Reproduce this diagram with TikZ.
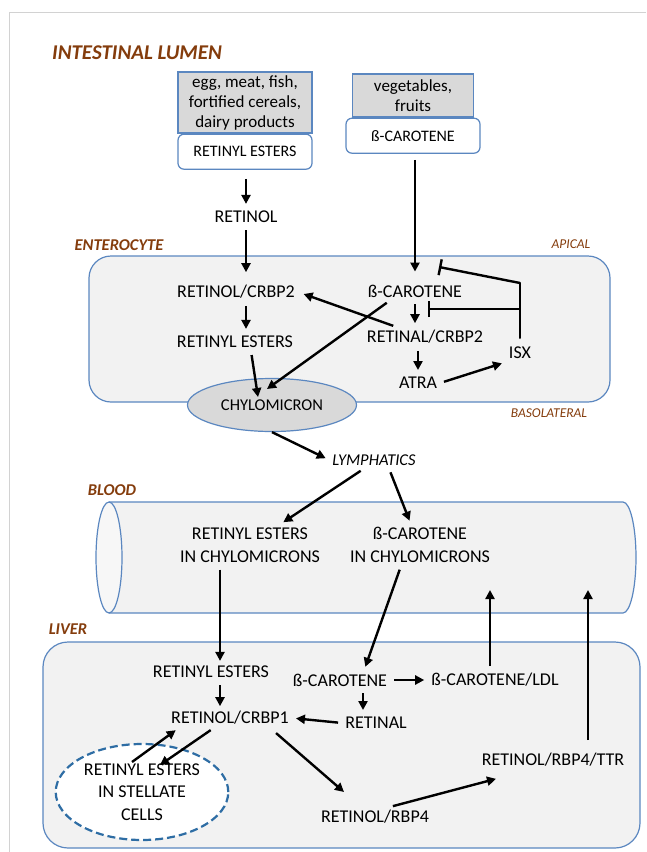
\documentclass[tikz,border=0pt]{standalone}
\usepackage{fontspec}
\setmainfont{Carlito}
\usepackage{xcolor}
\usepackage{tikz}
\usetikzlibrary{positioning,shapes.geometric,arrows.meta,calc}

\definecolor{regionbrown}{HTML}{843C0C}
\definecolor{cellblue}{HTML}{5B87C0}
\definecolor{cellgray}{HTML}{F2F2F2}
\definecolor{foodgray}{HTML}{D9D9D9}
\definecolor{stellateblue}{HTML}{2E6DA4}

\begin{document}
\begin{tikzpicture}[
  x=1pt, y=-1pt,
  every node/.style={font=\fontsize{18}{21}\selectfont, inner sep=3pt},
  lbl/.style={align=center, font=\fontsize{18}{23}\selectfont},
  region/.style={font=\fontsize{16.5}{20}\selectfont\bfseries\itshape, text=regionbrown},
  side/.style={font=\fontsize{13.5}{16}\selectfont\itshape, text=regionbrown},
  food/.style={draw=cellblue, line width=1.2pt, fill=foodgray, align=center,
               font=\fontsize{17}{20}\selectfont},
  src/.style={draw=cellblue, line width=1.2pt, fill=white, rounded corners=6pt,
              font=\fontsize{16}{19}\selectfont},
  cell/.style={draw=cellblue, line width=1.2pt, fill=cellgray, rounded corners=22pt},
  arr/.style={-{Triangle[length=9pt,width=9pt]}, line width=2.4pt,
              shorten <=4pt, shorten >=4pt},
  inh/.style={-{Bar[width=16pt]}, line width=2.4pt},
]
\useasboundingbox (0,0) rectangle (646,852);
\draw[gray!35, line width=1pt] (646,12) -- (9,12) -- (9,852);

%% --- Intestinal lumen ---------------------------------------
\node[region, font=\fontsize{21}{25}\selectfont\bfseries\itshape] (lumenLbl) at (137,53)
     {INTESTINAL LUMEN};

\node[food, minimum width=134pt, minimum height=61pt] (egg) at (245,102.5)
     {egg, meat, fish,\\fortified cereals,\\dairy products};
\node[src, minimum width=134pt, minimum height=35pt, below=0pt of egg] (reLumen)
     {RETINYL ESTERS};

\node[food, minimum width=121pt, minimum height=43pt] (veg) at (413,95.5)
     {vegetables,\\fruits};
\node[src, minimum width=134pt, minimum height=35pt, below=0pt of veg] (bcLumen)
     {ß-CAROTENE};

\node (retinol) at (246,217) {RETINOL};

%% --- Enterocyte ---------------------------------------------
\node[region] (enteroLbl) at (119,245) {ENTEROCYTE};
\node[side] (apical) at (571,244) {APICAL};
\draw[cell] (89,256) rectangle (610,402);
\node[side] (baso) at (549,413) {BASOLATERAL};

\node (crbpTwo)  at (236,292) {RETINOL/CRBP2};
\node (bcEntero) at (415,291) {ß-CAROTENE};
\node (reEntero) at (235,342) {RETINYL ESTERS};
\node (retinal)  at (425,337) {RETINAL/CRBP2};
\node (isx)      at (520,353) {ISX};
\node (atra)     at (418,383) {ATRA};
\node[draw=cellblue, line width=1.2pt, fill=foodgray, ellipse,
      minimum width=169pt, minimum height=53pt,
      font=\fontsize{16.5}{20}\selectfont] (chylo) at (272,405) {CHYLOMICRON};

\coordinate (isxTop) at (520,283);
\coordinate (isxMid) at (520,309);
\coordinate (inhTop) at (439,267);
\coordinate (inhMid) at (428,309);

\draw[arr, shorten <=9pt] (reLumen.south -| retinol) -- (retinol.north);
\draw[arr, shorten >=10pt] (retinol.south) -- (retinol |- crbpTwo.north);
\draw[arr, shorten <=6pt, shorten >=10pt] (bcLumen.south -| bcEntero) -- (bcEntero.north);
\draw[arr] (crbpTwo.south -| retinol) -- (retinol |- reEntero.north);
\draw[arr, shorten >=0pt] ([xshift=16pt]reEntero.south) -- ([xshift=-14pt,yshift=8pt]chylo.center);
\draw[arr, shorten >=0pt] ([xshift=-25pt]bcEntero.south) -- ([xshift=-5pt,yshift=16pt]chylo.center);
\draw[arr, shorten >=6pt] ([xshift=-28pt]retinal.north) -- (crbpTwo.east);
\draw[arr] (bcEntero.south -| bcEntero) -- (bcEntero |- retinal.north);
\draw[arr] (retinal.south -| atra) -- (atra.north);
\draw[arr] (atra.east) -- (isx.south west);

\draw[line width=2.4pt, line cap=round, shorten <=6pt] (isx.north) -- (isxTop);
\draw[inh] (isxTop) -- (inhTop);
\draw[inh] (isxMid) -- (inhMid);

%% --- Lymphatics and blood -----------------------------------
\node[font=\fontsize{16.5}{20}\selectfont\itshape] (lymph) at (374,460) {LYMPHATICS};
\node[region] (bloodLbl) at (112,490) {BLOOD};

\fill[cellgray] (109,502) -- (623,502)
     arc[start angle=90, end angle=-90, x radius=13pt, y radius=55.5pt]
     -- (109,613)
     arc[start angle=-90, end angle=-270, x radius=13pt, y radius=55.5pt] -- cycle;
\draw[cellblue, line width=1.2pt] (109,502) -- (623,502)
     arc[start angle=90, end angle=-90, x radius=13pt, y radius=55.5pt]
     -- (109,613);
\draw[cellblue, line width=1.2pt, fill=cellgray!60!white]
     (109,557.5) ellipse[x radius=13pt, y radius=55.5pt];

\node[lbl] (reChylo) at (250,545) {RETINYL ESTERS\\IN CHYLOMICRONS};
\node[lbl] (bcChylo) at (420,545) {ß-CAROTENE\\IN CHYLOMICRONS};

\draw[arr, shorten <=0pt] (chylo.south) -- (lymph.west);
\draw[arr] ([xshift=-10pt]lymph.south) -- ([xshift=30pt]reChylo.north);
\draw[arr] ([xshift=15pt]lymph.south) -- ([xshift=-9pt]reChylo.north -| bcChylo);

%% --- Liver --------------------------------------------------
\node[region] (liverLbl) at (68,629) {LIVER};
\draw[cell, rounded corners=25pt] (43,642) rectangle (640,848);

\node (reLiver)      at (211,672) {RETINYL ESTERS};
\node (bcLiver)      at (340,680) {ß-CAROTENE};
\node (bcLdl)        at (495,680) {ß-CAROTENE/LDL};
\node (crbpOne)      at (230,718) {RETINOL/CRBP1};
\node (retinalLiver) at (376,723) {RETINAL};
\node (ttr)          at (553,760) {RETINOL/RBP4/TTR};
\node (rbpFour)      at (375,817) {RETINOL/RBP4};
\node[draw=stellateblue, line width=2.2pt, dash pattern=on 8pt off 4pt,
      fill=white, ellipse,
      minimum width=168pt, minimum height=96pt, align=center,
      font=\fontsize{18}{22.5}\selectfont] (stellate) at (142,792)
     {RETINYL ESTERS\\IN STELLATE\\CELLS};

\coordinate (ldlTip) at (490,590);
\coordinate (ttrTip) at (588,590);

\draw[arr, shorten >=2pt] ([xshift=-30pt]reChylo.south) -- ([xshift=-30pt]reChylo.south |- reLiver.north);
\draw[arr] ([xshift=-19pt]bcChylo.south) -- ([xshift=24pt]bcLiver.north);
\draw[arr] (bcLiver.east) -- (bcLdl.west);
\draw[arr, shorten >=0pt] (ldlTip |- bcLdl.north) -- (ldlTip);
\draw[arr, shorten >=0pt, shorten <=10pt] (ttrTip |- ttr.north) -- (ttrTip);
\draw[arr, shorten >=2pt] ([xshift=-30pt]reChylo.south |- reLiver.south) -- ([xshift=-30pt]reChylo.south |- crbpOne.north);
\draw[arr] ([xshift=23pt]bcLiver.south) -- ([xshift=23pt]bcLiver.south |- retinalLiver.north);
\draw[arr] (retinalLiver.west) -- (crbpOne.east);
\draw[arr, shorten <=8pt, shorten >=0pt] ([xshift=40pt]crbpOne.south) -- ([xshift=-31pt,yshift=25pt]rbpFour.center);
\draw[arr, shorten >=0pt] ([xshift=14pt]rbpFour.north) -- ([xshift=-57pt,yshift=-9pt]ttr.south);
\draw[arr, shorten <=0pt] ([xshift=-10pt,yshift=30pt]stellate.center) -- ([xshift=-51pt]crbpOne.south);
\draw[arr, shorten >=0pt] ([xshift=-16pt]crbpOne.south) -- ([xshift=18pt,yshift=27pt]stellate.center);

\end{tikzpicture}
\end{document}
